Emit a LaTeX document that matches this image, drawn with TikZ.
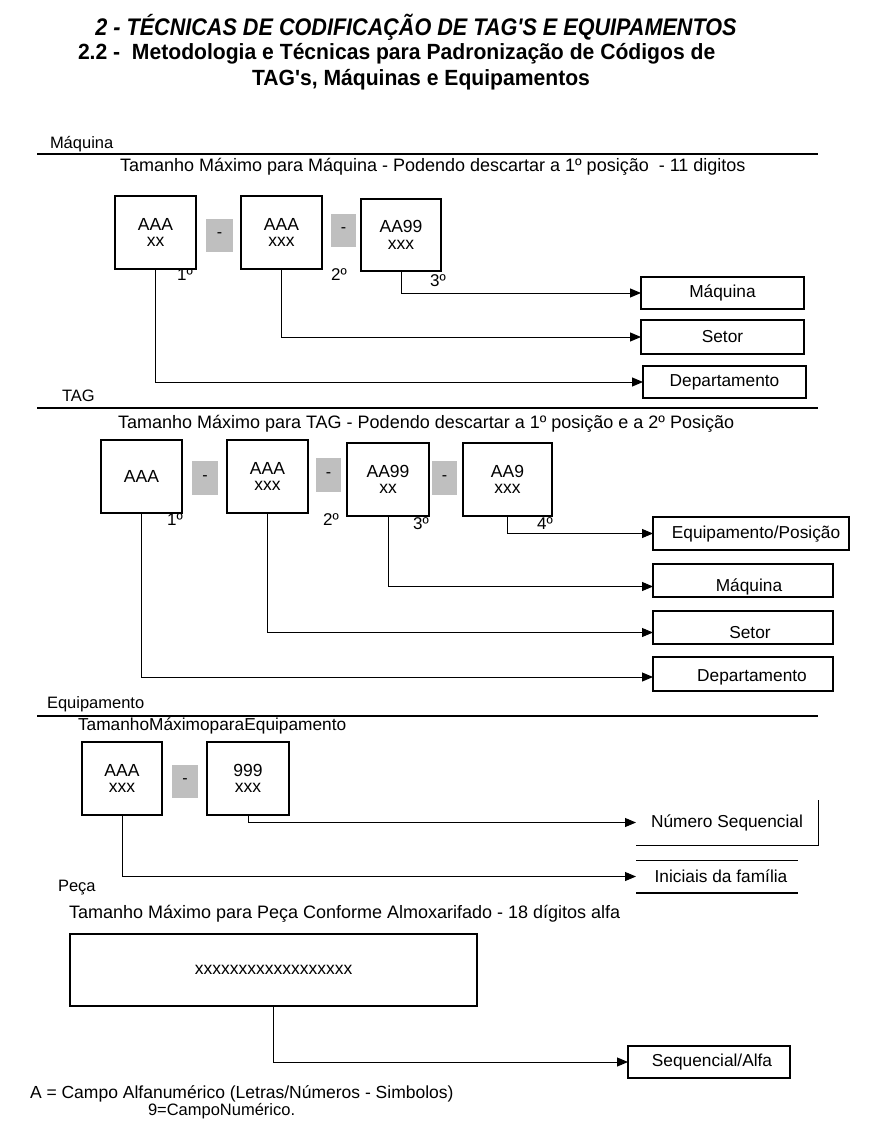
\documentclass[tikz,border=0pt]{standalone}
\usepackage{fontspec}
\setmainfont{Liberation Sans}
\newfontfamily\titlefonta[FakeStretch=0.9]{Liberation Sans}
\newfontfamily\titlefontb[FakeStretch=0.96]{Liberation Sans}
\usetikzlibrary{arrows.meta,calc}
\begin{document}
\begin{tikzpicture}[x=1pt,y=-1pt,
  every node/.style={inner sep=0pt, outer sep=0pt},
  txt/.style={anchor=west, font=\fontsize{18}{20}\selectfont},
  seclbl/.style={anchor=west, font=\fontsize{16.5}{18}\selectfont},
  codebox/.style={draw, line width=1.1pt, anchor=north west, align=center, font=\fontsize{17.5}{16.5}\selectfont},
  sepbox/.style={fill=black!25, anchor=north west, font=\fontsize{16}{16}\selectfont},
  tgtbox/.style={draw, line width=1.1pt, anchor=north west, font=\fontsize{17.3}{18}\selectfont},
  tgtlbl/.style={font=\fontsize{17.3}{18}\selectfont},
  ord/.style={font=\fontsize{17}{18}\selectfont},
  rule/.style={line width=1.4pt},
  conn/.style={line width=1pt, -{Triangle[length=11pt,width=9pt]}}
]
\useasboundingbox (0,0) rectangle (874,1123);
\fill[white] (0,0) rectangle (874,1123);

% Title
\node[font=\titlefonta\bfseries\itshape\fontsize{24}{26}\selectfont] (t1) at (416,27) {2 - TÉCNICAS DE CODIFICAÇÃO DE TAG'S E EQUIPAMENTOS};
\node[anchor=west, font=\titlefontb\bfseries\fontsize{22}{24}\selectfont] (t2) at (78,54) {2.2 -\ \ Metodologia e Técnicas para Padronização de Códigos de};
\node[font=\titlefontb\bfseries\fontsize{22}{24}\selectfont] (t3) at (421,80) {TAG's, Máquinas e Equipamentos};

% ---------------- Máquina ----------------
\node[seclbl] (lm) at (50,144) {Máquina};
\draw[rule] (37,154) -- (818,154);
\node[txt] (sm) at (120,167) {Tamanho Máximo para Máquina - Podendo descartar a 1º posição\ \ - 11 digitos};

\node[codebox, minimum width=81pt, minimum height=73pt] (m1) at (115,196) {AAA\\xx};
\node[sepbox, minimum width=27pt, minimum height=33pt] (mg1) at (206,219) {-};
\node[codebox, minimum width=81pt, minimum height=73pt] (m2) at (241,196) {AAA\\xxx};
\node[sepbox, minimum width=25pt, minimum height=33pt] (mg2) at (331,214) {-};
\node[codebox, minimum width=80pt, minimum height=72pt] (m3) at (361,199) {AA99\\xxx};
\node[ord] (mo1) at (185,275) {1º};
\node[ord] (mo2) at (339,275) {2º};
\node[ord] (mo3) at (438,281) {3º};

\node[tgtbox, minimum width=163pt, minimum height=32pt] (mq) at (641,277) {Máquina};
\node[tgtbox, minimum width=163pt, minimum height=34pt] (ms) at (641,320) {Setor};
\node[tgtbox, minimum width=163pt, minimum height=32pt] (md) at (643,366) {Departamento};

\draw[conn] (m3.south) |- (mq.west);
\draw[conn] (m2.south) |- (ms.west);
\draw[conn] (m1.south) |- (md.west);

% ---------------- TAG ----------------
\node[seclbl] (lt) at (62,396) {TAG};
\draw[rule] (37,408) -- (818,408);
\node[txt] (st) at (118,424) {Tamanho Máximo para TAG - Podendo descartar a 1º posição e a 2º Posição};

\node[codebox, minimum width=81pt, minimum height=73pt] (a1) at (101,440) {AAA};
\node[sepbox, minimum width=26pt, minimum height=34pt] (ag1) at (192,461) {-};
\node[codebox, minimum width=81pt, minimum height=73pt] (a2) at (227,440) {AAA\\xxx};
\node[sepbox, minimum width=25pt, minimum height=34pt] (ag2) at (316,458) {-};
\node[codebox, minimum width=82pt, minimum height=73pt] (a3) at (347,443) {AA99\\xx};
\node[sepbox, minimum width=25pt, minimum height=34pt] (ag3) at (432,461) {-};
\node[codebox, minimum width=89pt, minimum height=73pt] (a4) at (463,443) {AA9\\xxx};
\node[ord] (ao1) at (175,520) {1º};
\node[ord] (ao2) at (331,520) {2º};
\node[ord] (ao3) at (421,524) {3º};
\node[ord] (ao4) at (545,524) {4º};

\node[tgtbox, minimum width=196pt, minimum height=33pt,
  label={[tgtlbl, xshift=5pt, yshift=-1pt]center:Equipamento/Posição}] (te) at (653,517) {};
\node[tgtbox, minimum width=180pt, minimum height=33pt,
  label={[tgtlbl, xshift=6pt, yshift=-6pt]center:Máquina}] (tq) at (653,564) {};
\node[tgtbox, minimum width=180pt, minimum height=33pt,
  label={[tgtlbl, xshift=7pt, yshift=-5pt]center:Setor}] (ts) at (653,611) {};
\node[tgtbox, minimum width=180pt, minimum height=34pt,
  label={[tgtlbl, xshift=9pt, yshift=-3pt]center:Departamento}] (td) at (653,657) {};

\draw[conn] (a4.south) |- (te.west);
\draw[conn] (a3.south) |- ([yshift=-6pt]tq.west);
\draw[conn] (a2.south) |- ([yshift=-5pt]ts.west);
\draw[conn] (a1.south) |- ([yshift=-3pt]td.west);

% ---------------- Equipamento ----------------
\node[seclbl] (le) at (47,704) {Equipamento};
\draw[rule] (37,716) -- (818,716);
\node[txt, font=\fontsize{17.3}{19}\selectfont] (se) at (78,726) {TamanhoMáximoparaEquipamento};

\node[codebox, minimum width=80pt, minimum height=73pt] (e1) at (82,742) {AAA\\xxx};
\node[sepbox, minimum width=26pt, minimum height=33pt] (eg1) at (172,765) {-};
\node[codebox, minimum width=82pt, minimum height=73pt] (e2) at (207,742) {999\\xxx};

\node[tgtbox, draw=none, minimum width=182pt, minimum height=45pt] (ns) at (636,800) {Número Sequencial};
\draw[line width=1pt] (ns.north east) -- (ns.south east) -- (ns.south west);
\node[tgtbox, draw=none, minimum width=162pt, minimum height=33pt] (ni) at (636,860) {\hspace*{8pt}Iniciais da família};
\draw[line width=1pt] (ni.north west) -- (ni.north east);
\draw[line width=2pt] (ni.south west) -- (ni.south east);

\draw[conn] (e2.south) |- (ns.west);
\draw[conn] (e1.south) |- (ni.west);

% ---------------- Peça ----------------
\node[seclbl] (lp) at (58,888) {Peça};
\node[txt] (sp) at (69,914) {Tamanho Máximo para Peça Conforme Almoxarifado - 18 dígitos alfa};
\node[codebox, minimum width=407pt, minimum height=72pt] (p1) at (70,934) {xxxxxxxxxxxxxxxxxx};
\node[tgtbox, minimum width=162pt, minimum height=32pt,
  label={[tgtlbl, xshift=3pt]center:Sequencial/Alfa}] (pa) at (628,1046) {};
\draw[conn] (p1.south) |- (pa.west);

% footer
\node[txt, font=\fontsize{17.5}{19}\selectfont] (f1) at (30,1094) {A = Campo Alfanumérico (Letras/Números - Simbolos)};
\node[txt, font=\fontsize{16.5}{18}\selectfont] (f2) at (148,1111) {9=CampoNumérico.};
\end{tikzpicture}
\end{document}
